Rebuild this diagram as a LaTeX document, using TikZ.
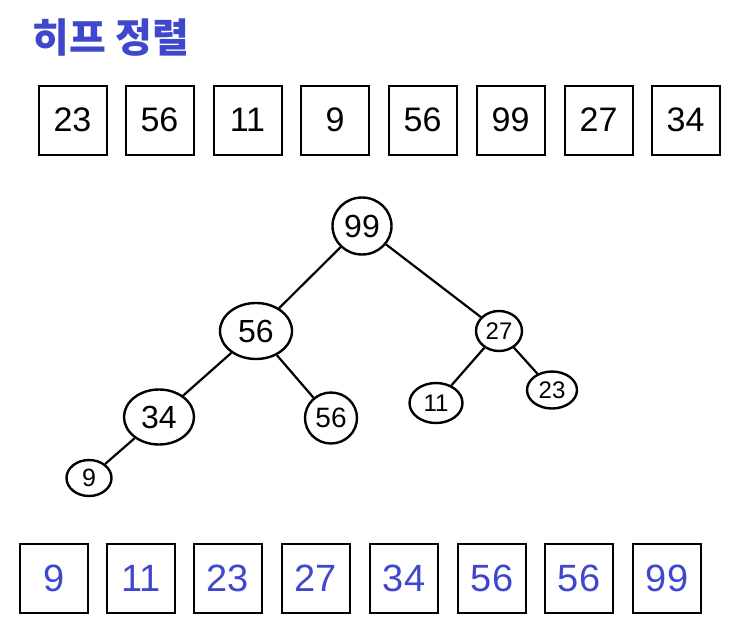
\documentclass[tikz,border=0pt]{standalone}
\usepackage{fontspec}
\setmainfont{Liberation Sans}
\newfontfamily\krfont{Noto Sans CJK KR}
\usetikzlibrary{shapes.geometric}
\definecolor{penblue}{RGB}{63,72,204}
\begin{document}
\begin{tikzpicture}[x=1pt,y=-1pt,
  cell/.style={draw,line width=2pt,minimum width=68pt,minimum height=69pt,inner sep=0pt,font=\fontsize{34}{34}\selectfont},
  bcell/.style={cell,text=penblue,font=\fontsize{38}{38}\selectfont},
  tnode/.style={draw,ellipse,line width=2.4pt,inner sep=0pt},
  edge/.style={line width=2.2pt}]
\useasboundingbox (0,0) rectangle (738,627);
\node[anchor=west,text=penblue,font=\krfont\bfseries\fontsize{40}{40}\selectfont] (title) at (29,38) {히프 정렬};
% top row
\node[cell] (t1) at (72.5,120) {23};
\node[cell] (t2) at (159.5,120) {56};
\node[cell] (t3) at (247.5,120) {11};
\node[cell] (t4) at (335,120) {9};
\node[cell] (t5) at (422.5,120) {56};
\node[cell] (t6) at (510.5,120) {99};
\node[cell] (t7) at (598.5,120) {27};
\node[cell] (t8) at (685.5,120) {34};
% tree
\node[tnode,minimum width=59pt,minimum height=57pt,font=\fontsize{32}{32}\selectfont] (a) at (362,226) {99};
\node[tnode,minimum width=72pt,minimum height=56pt,font=\fontsize{32}{32}\selectfont] (b) at (256,331) {56};
\node[tnode,minimum width=46pt,minimum height=40pt,font=\fontsize{24}{24}\selectfont] (c) at (499,331) {27};
\node[tnode,minimum width=70pt,minimum height=55pt,font=\fontsize{32}{32}\selectfont] (d) at (159,417) {34};
\node[tnode,minimum width=52pt,minimum height=51pt,font=\fontsize{28}{28}\selectfont] (e) at (331,418) {56};
\node[tnode,minimum width=53pt,minimum height=40pt,font=\fontsize{24}{24}\selectfont] (f) at (436,403) {11};
\node[tnode,minimum width=50pt,minimum height=37pt,font=\fontsize{24}{24}\selectfont] (g) at (552,390) {23};
\node[tnode,minimum width=45pt,minimum height=36pt,font=\fontsize{25}{25}\selectfont] (h) at (89,478) {9};
\draw[edge] (a) -- (b);
\draw[edge] (a) -- (c);
\draw[edge] (b) -- (d);
\draw[edge] (b) -- (e);
\draw[edge] (c) -- (f);
\draw[edge] (c) -- (g);
\draw[edge] (d) -- (h);
% bottom row
\node[bcell] (s1) at (54,578.5) {9};
\node[bcell] (s2) at (141,578.5) {11};
\node[bcell] (s3) at (228,578.5) {23};
\node[bcell] (s4) at (316,578.5) {27};
\node[bcell] (s5) at (404,578.5) {34};
\node[bcell] (s6) at (492,578.5) {56};
\node[bcell] (s7) at (579,578.5) {56};
\node[bcell] (s8) at (667,578.5) {99};
\end{tikzpicture}
\end{document}
